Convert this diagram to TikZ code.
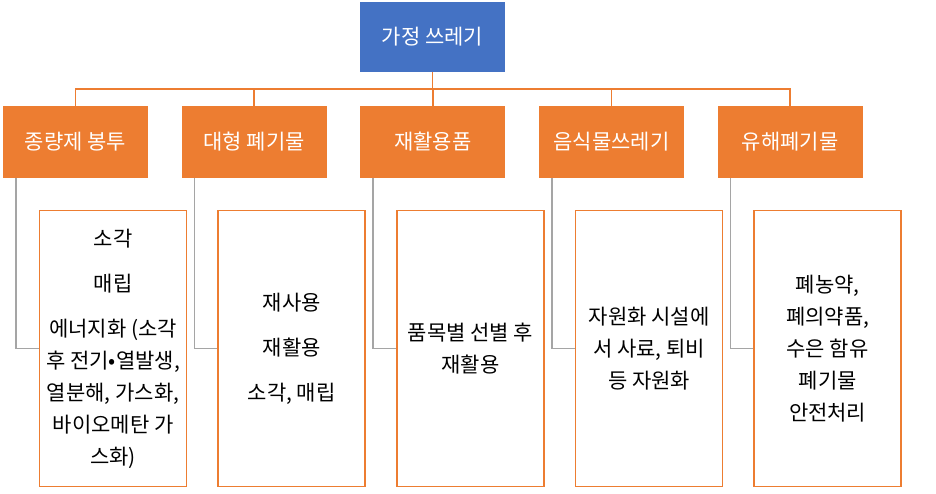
\documentclass[tikz,border=0pt]{standalone}
\usepackage{fontspec}
\setmainfont{Noto Sans CJK KR}
\usetikzlibrary{positioning}
\definecolor{rootblue}{HTML}{4472C4}
\definecolor{catorange}{HTML}{ED7D31}
\definecolor{linkgray}{HTML}{A5A5A5}
\tikzstyle{root} = [fill=rootblue, text=white, rectangle,
    minimum width=145pt, minimum height=70pt]
\tikzstyle{cat} = [fill=catorange, text=white, rectangle,
    minimum width=145pt, minimum height=72pt]
\tikzstyle{detail} = [draw=catorange, line width=1.5pt, fill=white, rectangle,
    inner xsep=0pt, minimum width=147pt, minimum height=276pt,
    align=center, anchor=north west]
\tikzstyle{bus} = [draw=catorange, line width=1.5pt]
\tikzstyle{link} = [draw=linkgray, line width=1.5pt]

\begin{document}
\begin{tikzpicture}[x=1pt, y=-1pt, node distance=33.25pt,
    font=\fontsize{21}{32}\selectfont]
    \useasboundingbox (0,0) rectangle (936,494);
    % % % % % % % % % % % % % % % % % % % % % % %
    % Top level
    % % % % % % % % % % % % % % % % % % % % % % %
    \node [root] (root) at (432.5,37) {가정 쓰레기};
    \coordinate (hub) at ([yshift=-17pt]root.south);

    % Categories
    \node [cat] (c1) at (75.5,142) {종량제 봉투};
    \node [cat, right=of c1] (c2) {대형 폐기물};
    \node [cat, right=of c2] (c3) {재활용품};
    \node [cat, right=of c3] (c4) {음식물쓰레기};
    \node [cat, right=of c4] (c5) {유해폐기물};

    % Bus from the top box to every category
    \draw [bus] (root.south) -- (hub);
    \draw [bus] (hub) -| (c1.north);
    \draw [bus] (hub) -| (c2.north);
    \draw [bus] (hub) -| (c3.north);
    \draw [bus] (hub) -| (c4.north);
    \draw [bus] (hub) -| (c5.north);

    % % % % % % % % % % % % % % % % % % % % % % %
    % Details
    % % % % % % % % % % % % % % % % % % % % % % %
    \node [detail] (d1) at ([shift={(36pt,-31.5pt)}]c1.south west)
        {소각\\[13pt]매립\\[13pt]에너지화 (소각\\후 전기•열발생,\\열분해, 가스화,\\바이오메탄 가\\스화)};
    \node [detail] (d2) at ([shift={(36pt,-31.5pt)}]c2.south west)
        {재사용\\[13pt]재활용\\[13pt]소각, 매립};
    \node [detail] (d3) at ([shift={(36pt,-31.5pt)}]c3.south west)
        {품목별 선별 후\\재활용};
    \node [detail] (d4) at ([shift={(36pt,-31.5pt)}]c4.south west)
        {자원화 시설에\\서 사료, 퇴비\\등 자원화};
    \node [detail] (d5) at ([shift={(36pt,-31.5pt)}]c5.south west)
        {폐농약,\\폐의약품,\\수은 함유\\폐기물\\안전처리};

    % Gray links from each category to its details
    \draw [link] ([xshift=13pt]c1.south west) |- (d1.west);
    \draw [link] ([xshift=13pt]c2.south west) |- (d2.west);
    \draw [link] ([xshift=13pt]c3.south west) |- (d3.west);
    \draw [link] ([xshift=13pt]c4.south west) |- (d4.west);
    \draw [link] ([xshift=13pt]c5.south west) |- (d5.west);
\end{tikzpicture}
\end{document}
